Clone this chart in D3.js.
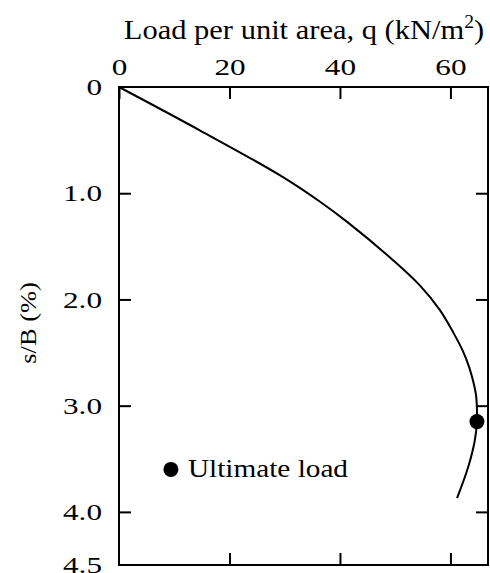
<!DOCTYPE html>
<html>
<head>
<meta charset="utf-8">
<script src="https://cdn.jsdelivr.net/npm/d3@7"></script>
<style>
  body { margin: 0; background: #fff; }
  svg { display: block; }
</style>
</head>
<body>
<svg id="chart" width="490" height="573"></svg>
<script>
// axis ticks
const qTicks = [0, 20, 40, 60];
const sTicks = [0, 1.0, 2.0, 3.0, 4.0, 4.5];
const sTickLabels = ["0", "1.0", "2.0", "3.0", "4.0", "4.5"];

// load-settlement curve
const curveS = [0, 0.41, 0.83, 1.08, 1.27, 1.63, 1.87, 2.10, 2.31, 2.48, 2.64, 2.89, 3.04, 3.15, 3.33, 3.58, 3.87];
const curveQ = [0, 14.7, 29.1, 36.4, 41.3, 49.6, 54.5, 58.1, 60.5, 62.2, 63.4, 64.6, 64.8, 64.8, 64.4, 63.2, 61.2];

// ultimate load point
const ultimateQ = [64.8];
const ultimateS = [3.15];

const font = "'Liberation Serif', 'DejaVu Serif', serif";
const svg = d3.select('#chart');
const plotL = 119, plotR = 488, plotT = 87, plotB = 565;

const x = d3.scaleLinear().domain([0, 66.8]).range([plotL, plotR]);
const y = d3.scaleLinear().domain([0, 4.5]).range([plotT, plotB]);

// the scanned figure has slightly wide lettering
function stretch(sel, f) {
    sel.each(function() {
        const w = this.getComputedTextLength();
        d3.select(this).attr("textLength", w * f).attr("lengthAdjust", "spacingAndGlyphs");
    });
}

// frame
svg.append("rect")
    .attr("x", plotL).attr("y", plotT)
    .attr("width", plotR - plotL).attr("height", plotB - plotT)
    .attr("fill", "none").attr("stroke", "#000").attr("stroke-width", 2);

function styleAxis(g) {
    g.select(".domain").remove();
    g.selectAll(".tick line").attr("stroke", "#000").attr("stroke-width", 2);
    g.selectAll("text").attr("font-family", font).attr("font-size", 24).attr("fill", "#000");
}

// top axis with labels
svg.append("g")
    .attr("transform", `translate(0,${plotT})`)
    .call(d3.axisTop(x).tickValues(qTicks).tickFormat(d3.format("d")).tickSize(-12).tickPadding(12))
    .call(styleAxis)
    .call(g => stretch(g.selectAll("text"), 1.3));

// bottom axis, ticks only
svg.append("g")
    .attr("transform", `translate(0,${plotB})`)
    .call(d3.axisBottom(x).tickValues(qTicks.slice(1)).tickFormat("").tickSize(-12))
    .call(styleAxis);

// left axis
svg.append("g")
    .attr("transform", `translate(${plotL},0)`)
    .call(d3.axisLeft(y).tickValues(sTicks).tickFormat((d, i) => sTickLabels[i]).tickSize(-12).tickPadding(17))
    .call(styleAxis)
    .call(g => g.selectAll(".tick line").filter(d => d === 0 || d === 4.5).remove())
    .call(g => stretch(g.selectAll("text"), 1.3));

// right axis, ticks only
svg.append("g")
    .attr("transform", `translate(${plotR},0)`)
    .call(d3.axisRight(y).tickValues(sTicks.slice(1, 5)).tickFormat("").tickSize(-12))
    .call(styleAxis);

// curve
const line = d3.line()
    .x((d, i) => x(curveQ[i]))
    .y(d => y(d))
    .curve(d3.curveCatmullRom);

svg.append("path")
    .datum(curveS)
    .attr("d", line)
    .attr("fill", "none")
    .attr("stroke", "#000")
    .attr("stroke-width", 2);

// ultimate load marker
svg.selectAll(".ult")
    .data(ultimateQ)
    .enter().append("circle")
    .attr("cx", d => x(d))
    .attr("cy", (d, i) => y(ultimateS[i]))
    .attr("r", 7.5)
    .attr("fill", "#000");

// legend
svg.append("circle")
    .attr("cx", x(9.4)).attr("cy", y(3.6))
    .attr("r", 7.5).attr("fill", "#000");
svg.append("text")
    .attr("x", 188).attr("y", y(3.6) + 8)
    .attr("font-family", font).attr("font-size", 26)
    .text("Ultimate load")
    .call(t => t.attr("textLength", 160).attr("lengthAdjust", "spacingAndGlyphs"));

// axis titles
const title = svg.append("text")
    .attr("transform", "translate(304,39) scale(1.09,1)")
    .attr("text-anchor", "middle")
    .attr("font-family", font).attr("font-size", 28);
title.append("tspan").text("Load per unit area, q (kN/m");
title.append("tspan").attr("dy", -11).attr("font-size", 18).text("2");
title.append("tspan").attr("dy", 11).text(")");

svg.append("text")
    .attr("transform", "translate(36,323) rotate(-90) scale(1.15,1)")
    .attr("text-anchor", "middle")
    .attr("font-family", font).attr("font-size", 23)
    .text("s/B (%)");
</script>
</body>
</html>
